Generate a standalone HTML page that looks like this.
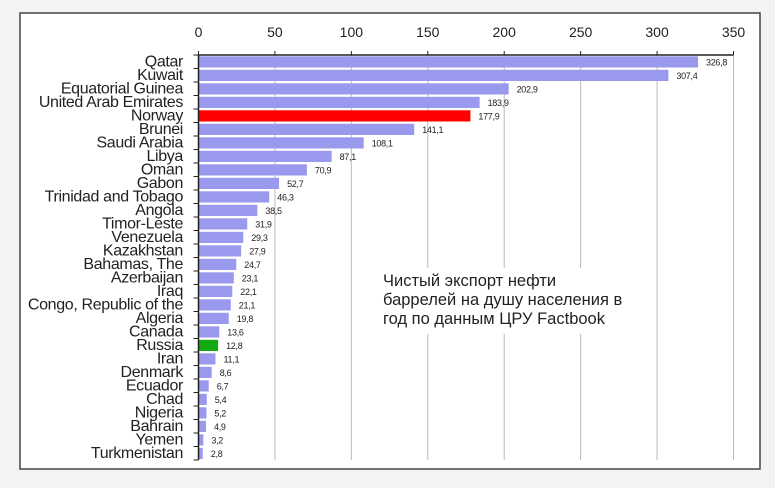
<!DOCTYPE html>
<html><head><meta charset="utf-8"><style>
html,body{margin:0;padding:0;background:#f3f3f3;}
svg{display:block;}
.c{font-size:16px;fill:#222;letter-spacing:-0.35px;text-anchor:end;}
.v{font-size:9px;fill:#222;letter-spacing:-0.3px;}
.b{fill:#9999ee;}
</style></head><body>
<svg width="775" height="488" xmlns="http://www.w3.org/2000/svg" font-family="Liberation Sans, sans-serif">
<rect x="0" y="0" width="775" height="488" fill="#f3f3f3"/>
<rect x="20" y="13" width="740" height="456" fill="#fff" stroke="#444" stroke-width="1.5"/>
<g stroke="#bbb" stroke-width="1">
<line x1="274.93" y1="55" x2="274.93" y2="460"/>
<line x1="351.36" y1="55" x2="351.36" y2="460"/>
<line x1="427.79" y1="55" x2="427.79" y2="460"/>
<line x1="504.21" y1="55" x2="504.21" y2="460"/>
<line x1="580.64" y1="55" x2="580.64" y2="460"/>
<line x1="657.07" y1="55" x2="657.07" y2="460"/>
<line x1="733.5" y1="55" x2="733.5" y2="460"/>
</g>
<g font-size="14" fill="#222" text-anchor="middle">
<text x="198.5" y="37">0</text><text x="274.93" y="37">50</text><text x="351.36" y="37">100</text><text x="427.79" y="37">150</text><text x="504.21" y="37">200</text><text x="580.64" y="37">250</text><text x="657.07" y="37">300</text><text x="733.5" y="37">350</text>
</g>
<g stroke="#222">
<line x1="198.5" y1="51" x2="198.5" y2="55"/><line x1="274.93" y1="51" x2="274.93" y2="55"/><line x1="351.36" y1="51" x2="351.36" y2="55"/><line x1="427.79" y1="51" x2="427.79" y2="55"/><line x1="504.21" y1="51" x2="504.21" y2="55"/><line x1="580.64" y1="51" x2="580.64" y2="55"/><line x1="657.07" y1="51" x2="657.07" y2="55"/><line x1="733.5" y1="51" x2="733.5" y2="55"/>
</g>
<rect x="380" y="268" width="252" height="66" fill="#fff"/>
<g transform="translate(0,55)"><rect class="b" x="198.5" y="1.3" width="499.54" height="11.2"/><text class="v" x="706" y="10.25">326,8</text><text class="c" x="183" y="11.5">Qatar</text></g>
<g transform="translate(0,68.5)"><rect class="b" x="198.5" y="1.3" width="469.88" height="11.2"/><text class="v" x="676.4" y="10.25">307,4</text><text class="c" x="183" y="11.5">Kuwait</text></g>
<g transform="translate(0,82)"><rect class="b" x="198.5" y="1.3" width="310.15" height="11.2"/><text class="v" x="516.6" y="10.25">202,9</text><text class="c" x="183" y="11.5">Equatorial Guinea</text></g>
<g transform="translate(0,95.5)"><rect class="b" x="198.5" y="1.3" width="281.11" height="11.2"/><text class="v" x="487.6" y="10.25">183,9</text><text class="c" x="183" y="11.5">United Arab Emirates</text></g>
<g transform="translate(0,109)"><rect fill="#ff0000" x="198.5" y="1.3" width="271.93" height="11.2"/><text class="v" x="478.4" y="10.25">177,9</text><text class="c" x="183" y="11.5">Norway</text></g>
<g transform="translate(0,122.5)"><rect class="b" x="198.5" y="1.3" width="215.68" height="11.2"/><text class="v" x="422.2" y="10.25">141,1</text><text class="c" x="183" y="11.5">Brunei</text></g>
<g transform="translate(0,136)"><rect class="b" x="198.5" y="1.3" width="165.24" height="11.2"/><text class="v" x="371.7" y="10.25">108,1</text><text class="c" x="183" y="11.5">Saudi Arabia</text></g>
<g transform="translate(0,149.5)"><rect class="b" x="198.5" y="1.3" width="133.14" height="11.2"/><text class="v" x="339.6" y="10.25">87,1</text><text class="c" x="183" y="11.5">Libya</text></g>
<g transform="translate(0,163)"><rect class="b" x="198.5" y="1.3" width="108.38" height="11.2"/><text class="v" x="314.9" y="10.25">70,9</text><text class="c" x="183" y="11.5">Oman</text></g>
<g transform="translate(0,176.5)"><rect class="b" x="198.5" y="1.3" width="80.56" height="11.2"/><text class="v" x="287.1" y="10.25">52,7</text><text class="c" x="183" y="11.5">Gabon</text></g>
<g transform="translate(0,190)"><rect class="b" x="198.5" y="1.3" width="70.77" height="11.2"/><text class="v" x="277.3" y="10.25">46,3</text><text class="c" x="183" y="11.5">Trinidad and Tobago</text></g>
<g transform="translate(0,203.5)"><rect class="b" x="198.5" y="1.3" width="58.85" height="11.2"/><text class="v" x="265.4" y="10.25">38,5</text><text class="c" x="183" y="11.5">Angola</text></g>
<g transform="translate(0,217)"><rect class="b" x="198.5" y="1.3" width="48.76" height="11.2"/><text class="v" x="255.3" y="10.25">31,9</text><text class="c" x="183" y="11.5">Timor-Leste</text></g>
<g transform="translate(0,230.5)"><rect class="b" x="198.5" y="1.3" width="44.79" height="11.2"/><text class="v" x="251.3" y="10.25">29,3</text><text class="c" x="183" y="11.5">Venezuela</text></g>
<g transform="translate(0,244)"><rect class="b" x="198.5" y="1.3" width="42.65" height="11.2"/><text class="v" x="249.2" y="10.25">27,9</text><text class="c" x="183" y="11.5">Kazakhstan</text></g>
<g transform="translate(0,257.5)"><rect class="b" x="198.5" y="1.3" width="37.76" height="11.2"/><text class="v" x="244.3" y="10.25">24,7</text><text class="c" x="183" y="11.5">Bahamas, The</text></g>
<g transform="translate(0,271)"><rect class="b" x="198.5" y="1.3" width="35.31" height="11.2"/><text class="v" x="241.8" y="10.25">23,1</text><text class="c" x="183" y="11.5">Azerbaijan</text></g>
<g transform="translate(0,284.5)"><rect class="b" x="198.5" y="1.3" width="33.78" height="11.2"/><text class="v" x="240.3" y="10.25">22,1</text><text class="c" x="183" y="11.5">Iraq</text></g>
<g transform="translate(0,298)"><rect class="b" x="198.5" y="1.3" width="32.25" height="11.2"/><text class="v" x="238.8" y="10.25">21,1</text><text class="c" x="183" y="11.5">Congo, Republic of the</text></g>
<g transform="translate(0,311.5)"><rect class="b" x="198.5" y="1.3" width="30.27" height="11.2"/><text class="v" x="236.8" y="10.25">19,8</text><text class="c" x="183" y="11.5">Algeria</text></g>
<g transform="translate(0,325)"><rect class="b" x="198.5" y="1.3" width="20.79" height="11.2"/><text class="v" x="227.3" y="10.25">13,6</text><text class="c" x="183" y="11.5">Canada</text></g>
<g transform="translate(0,338.5)"><rect fill="#11aa11" x="198.5" y="1.3" width="19.57" height="11.2"/><text class="v" x="226.1" y="10.25">12,8</text><text class="c" x="183" y="11.5">Russia</text></g>
<g transform="translate(0,352)"><rect class="b" x="198.5" y="1.3" width="16.97" height="11.2"/><text class="v" x="223.5" y="10.25">11,1</text><text class="c" x="183" y="11.5">Iran</text></g>
<g transform="translate(0,365.5)"><rect class="b" x="198.5" y="1.3" width="13.15" height="11.2"/><text class="v" x="219.7" y="10.25">8,6</text><text class="c" x="183" y="11.5">Denmark</text></g>
<g transform="translate(0,379)"><rect class="b" x="198.5" y="1.3" width="10.24" height="11.2"/><text class="v" x="216.7" y="10.25">6,7</text><text class="c" x="183" y="11.5">Ecuador</text></g>
<g transform="translate(0,392.5)"><rect class="b" x="198.5" y="1.3" width="8.25" height="11.2"/><text class="v" x="214.7" y="10.25">5,4</text><text class="c" x="183" y="11.5">Chad</text></g>
<g transform="translate(0,406)"><rect class="b" x="198.5" y="1.3" width="7.95" height="11.2"/><text class="v" x="214.4" y="10.25">5,2</text><text class="c" x="183" y="11.5">Nigeria</text></g>
<g transform="translate(0,419.5)"><rect class="b" x="198.5" y="1.3" width="7.49" height="11.2"/><text class="v" x="214" y="10.25">4,9</text><text class="c" x="183" y="11.5">Bahrain</text></g>
<g transform="translate(0,433)"><rect class="b" x="198.5" y="1.3" width="4.89" height="11.2"/><text class="v" x="211.4" y="10.25">3,2</text><text class="c" x="183" y="11.5">Yemen</text></g>
<g transform="translate(0,446.5)"><rect class="b" x="198.5" y="1.3" width="4.28" height="11.2"/><text class="v" x="210.8" y="10.25">2,8</text><text class="c" x="183" y="11.5">Turkmenistan</text></g>
<g stroke="#222">
<line x1="193.5" y1="55" x2="198.5" y2="55"/><line x1="193.5" y1="68.5" x2="198.5" y2="68.5"/><line x1="193.5" y1="82" x2="198.5" y2="82"/><line x1="193.5" y1="95.5" x2="198.5" y2="95.5"/><line x1="193.5" y1="109" x2="198.5" y2="109"/><line x1="193.5" y1="122.5" x2="198.5" y2="122.5"/><line x1="193.5" y1="136" x2="198.5" y2="136"/><line x1="193.5" y1="149.5" x2="198.5" y2="149.5"/><line x1="193.5" y1="163" x2="198.5" y2="163"/><line x1="193.5" y1="176.5" x2="198.5" y2="176.5"/><line x1="193.5" y1="190" x2="198.5" y2="190"/><line x1="193.5" y1="203.5" x2="198.5" y2="203.5"/><line x1="193.5" y1="217" x2="198.5" y2="217"/><line x1="193.5" y1="230.5" x2="198.5" y2="230.5"/><line x1="193.5" y1="244" x2="198.5" y2="244"/><line x1="193.5" y1="257.5" x2="198.5" y2="257.5"/><line x1="193.5" y1="271" x2="198.5" y2="271"/><line x1="193.5" y1="284.5" x2="198.5" y2="284.5"/><line x1="193.5" y1="298" x2="198.5" y2="298"/><line x1="193.5" y1="311.5" x2="198.5" y2="311.5"/><line x1="193.5" y1="325" x2="198.5" y2="325"/><line x1="193.5" y1="338.5" x2="198.5" y2="338.5"/><line x1="193.5" y1="352" x2="198.5" y2="352"/><line x1="193.5" y1="365.5" x2="198.5" y2="365.5"/><line x1="193.5" y1="379" x2="198.5" y2="379"/><line x1="193.5" y1="392.5" x2="198.5" y2="392.5"/><line x1="193.5" y1="406" x2="198.5" y2="406"/><line x1="193.5" y1="419.5" x2="198.5" y2="419.5"/><line x1="193.5" y1="433" x2="198.5" y2="433"/><line x1="193.5" y1="446.5" x2="198.5" y2="446.5"/><line x1="193.5" y1="460" x2="198.5" y2="460"/>
</g>
<line x1="198.5" y1="55" x2="733.5" y2="55" stroke="#222" stroke-width="1.5"/>
<line x1="198.5" y1="55" x2="198.5" y2="460" stroke="#222" stroke-width="1.5"/>
<text font-size="16.5" fill="#222"><tspan x="383" y="286">Чистый экспорт нефти</tspan><tspan x="383" y="305">баррелей на душу населения в</tspan><tspan x="383" y="324">год по данным ЦРУ Factbook</tspan></text>
</svg>
</body></html>
